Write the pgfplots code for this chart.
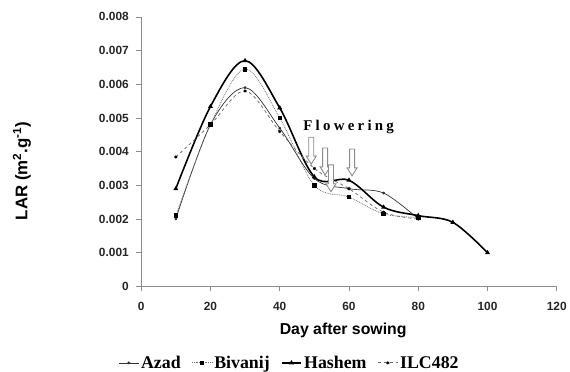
\documentclass[border=0pt]{standalone}
\usepackage{fontspec}
\setmainfont{Liberation Serif}
\setsansfont{Liberation Sans}
\usepackage{pgfplots}
\pgfplotsset{compat=1.18}
\definecolor{axgray}{RGB}{140,140,140}
\definecolor{lgray}{RGB}{110,110,110}
\newcommand{\flowarrow}[1]{%
  \draw[axgray, line width=0.9bp, fill=white] (#1) -- ++(-5bp,8bp) -- ++(2.5bp,0) -- ++(0,19bp) -- ++(5bp,0) -- ++(0,-19bp) -- ++(2.5bp,0) -- cycle;}
\begin{document}
\begin{tikzpicture}
\begin{axis}[
  at={(0,0)}, anchor=south west,
  scale only axis, width=418bp, height=271bp,
  xmin=0, xmax=120, ymin=0, ymax=0.008,
  axis lines*=left,
  axis line style={axgray, line width=0.8bp},
  every tick/.style={axgray, line width=0.8bp},
  tick align=outside, major tick length=5bp,
  xtick={0,20,...,120},
  ytick={0,0.001,0.002,0.003,0.004,0.005,0.006,0.007,0.008},
  yticklabels={0,0.001,0.002,0.003,0.004,0.005,0.006,0.007,0.008},
  scaled y ticks=false,
  /pgf/number format/assume math mode=true,
  tick label style={font=\sffamily\bfseries\fontsize{12}{13}\selectfont, black!85},
  xticklabel style={yshift=-7bp},
  yticklabel style={xshift=-4bp},
  xlabel={Day after sowing},
  ylabel={LAR (m\textsuperscript{2}.g\textsuperscript{-1})},
  xlabel style={font=\sffamily\bfseries\fontsize{16}{18}\selectfont, at={(axis description cs:0.486,-0.162)}, anchor=center},
  ylabel style={font=\sffamily\bfseries\fontsize{17}{19}\selectfont, at={(axis description cs:-0.287,0.428)}, anchor=center, rotate=0},
  legend columns=4,
  legend style={at={(axis description cs:-0.055,-0.284)}, anchor=west, draw=none, fill=none,
    font=\bfseries\fontsize{18}{20}\selectfont,
    /tikz/every even column/.append style={column sep=9bp},
    inner sep=0pt},
  legend image code/.code={\draw[#1] (0bp,0bp) -- (20bp,0bp); \draw[#1, only marks] plot coordinates {(10bp,0bp)};},
  clip=false,
]
\addplot[black!80, line width=0.7bp, smooth, tension=0.55, mark=*, mark size=1bp, mark options={solid, fill=black}]
  coordinates {(10,0.0020)(20,0.0048)(30,0.0059)(40,0.0047)(50,0.0032)(60,0.0029)(70,0.00277)(80,0.0020)};
\addlegendentry{Azad}
\addplot[lgray, line width=0.8bp, densely dotted, smooth, tension=0.55, mark=square*, mark size=1.8bp, mark options={solid, fill=black, draw=black}]
  coordinates {(10,0.0021)(20,0.0048)(30,0.00645)(40,0.0050)(50,0.0030)(60,0.00265)(70,0.00215)(80,0.00205)};
\addlegendentry{Bivanij}
\addplot[black, line width=1.6bp, smooth, tension=0.55, mark=triangle*, mark size=1.3bp, mark options={solid, fill=black}]
  coordinates {(10,0.0029)(20,0.00534)(30,0.0067)(40,0.0053)(50,0.00325)(60,0.00315)(70,0.00235)(80,0.0021)(90,0.0019)(100,0.0010)};
\addlegendentry{Hashem}
\addplot[lgray, line width=0.8bp, dashed, smooth, tension=0.55, mark=asterisk, mark size=1.6bp, mark options={solid, black}]
  coordinates {(10,0.00384)(20,0.0048)(30,0.0058)(40,0.0046)(50,0.0035)(60,0.0029)(70,0.0022)(80,0.0020)};
\addlegendentry{ILC482}
\flowarrow{axis cs:49.1,0.00363}
\flowarrow{axis cs:53.1,0.00331}
\flowarrow{axis cs:60.9,0.00328}
\flowarrow{axis cs:54.8,0.00281}
\node[font=\bfseries\fontsize{15}{17}\selectfont\addfontfeature{LetterSpace=22}] at (axis cs:59.9,0.00473) {Flowering};
\end{axis}
\path[use as bounding box] (-142bp,-86bp) rectangle (428bp,288bp);
\end{tikzpicture}
\end{document}
